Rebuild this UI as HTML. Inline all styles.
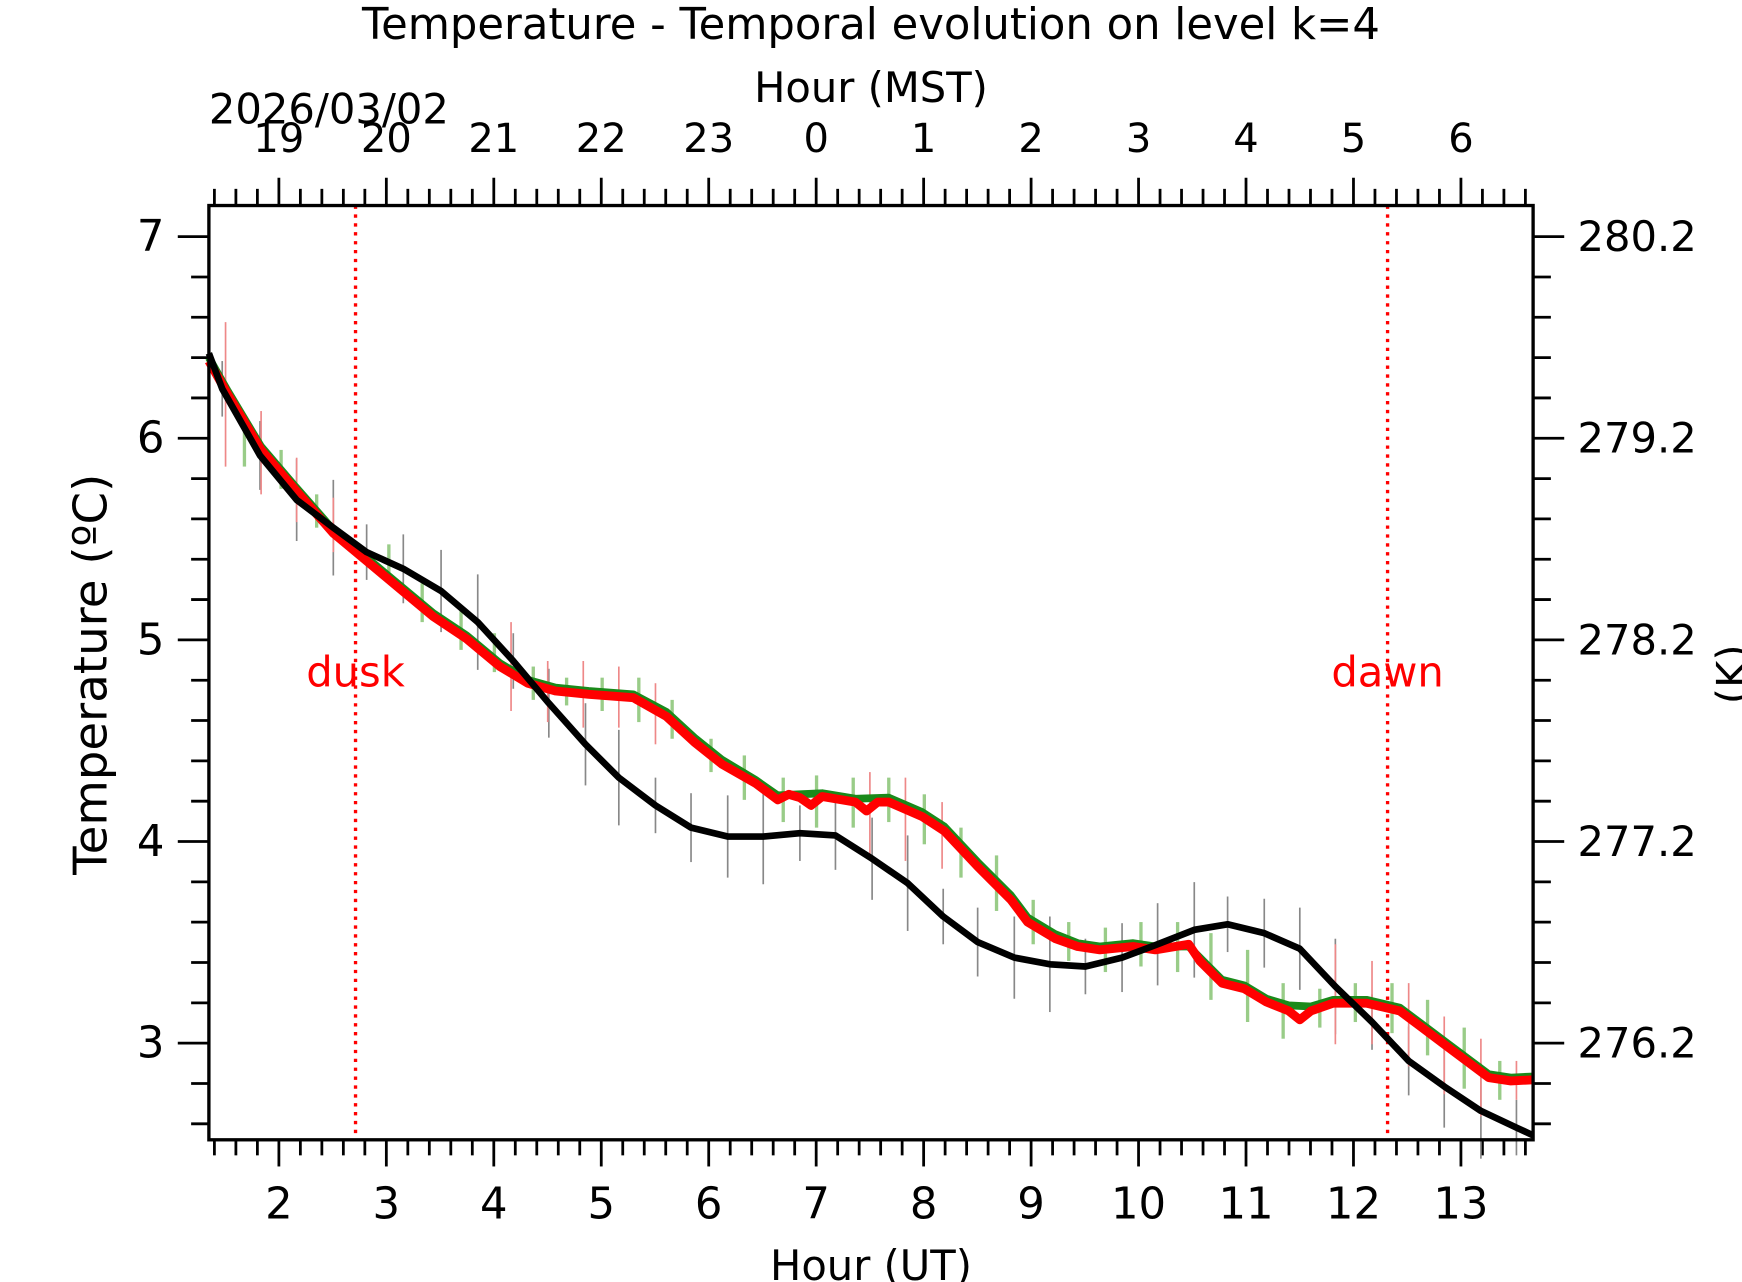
<!DOCTYPE html>
<html><head><meta charset="utf-8"><style>html,body{margin:0;padding:0;background:#fff}svg{display:block}text{font-family:"DejaVu Sans","Liberation Sans",sans-serif}</style></head>
<body>
<svg id="s" width="1742" height="1282" viewBox="0 0 1568 1154" xmlns="http://www.w3.org/2000/svg">
<rect width="1568" height="1154" fill="#fff"/>
<g id="ticks" stroke="#000" stroke-width="2.5"></g>
<g id="eb"></g>
<line x1="320" y1="185" x2="320" y2="1026" stroke="red" stroke-width="3" stroke-dasharray="3,5"/>
<line x1="1249" y1="185" x2="1249" y2="1026" stroke="red" stroke-width="3" stroke-dasharray="3,5"/>
<polyline fill="none" stroke="#1a8a1a" stroke-width="7" stroke-linejoin="round" points="188,322 205,352 235,402 265,437 300,477 330,502 360,527 390,552 420,572 450,597 475,612 500,619 530,622 570,625 600,641 625,664 650,684 680,702 700,716 720,715 740,714 770,719 800,718 830,731 850,744 880,776 910,806 925,826 950,841 970,849 990,852 1020,849 1040,852 1070,852 1080,862 1100,882 1120,887 1140,899 1160,905 1180,906 1200,900 1230,900 1260,907 1280,922 1300,937 1320,952 1340,967 1360,970 1380,969"/>
<polyline fill="none" stroke="red" stroke-width="8" stroke-linejoin="round" points="188,325 205,355 235,405 265,440 300,480 330,505 360,530 390,555 420,575 450,600 475,615 500,622 530,625 570,628 600,645 625,668 650,688 680,705 700,720 710,715 720,718 730,725 740,717 770,722 780,730 790,722 800,722 830,735 850,748 880,780 910,810 925,830 950,845 970,852 990,855 1020,852 1040,855 1070,850 1080,865 1100,885 1120,890 1140,902 1160,910 1170,918 1180,910 1200,903 1230,903 1260,910 1280,925 1300,940 1320,955 1340,970 1360,973 1380,972"/>
<polyline fill="none" stroke="#000" stroke-width="6" stroke-linejoin="round" points="188,318 200,350 234,410 267,450 300,475 330,497 363,512 397,532 430,560 462,595 494,633 527,670 557,700 590,725 622,745 655,753 687,753 720,750 752,752 785,773 817,795 849,825 880,848 913,862 945,868 977,870 1010,862 1042,850 1075,837 1105,832 1138,840 1170,854 1202,888 1235,920 1268,955 1300,978 1333,1000 1365,1015 1380,1022"/>
<rect x="188" y="185" width="1192" height="841" fill="none" stroke="#000" stroke-width="3"/>
<g font-size="37.5" fill="red" text-anchor="middle"><text x="320" y="618">dusk</text><text x="1249" y="618">dawn</text></g>
<g font-size="37.5" fill="#000" text-anchor="middle">
<text x="784" y="35" font-size="39">Temperature - Temporal evolution on level k=4</text>
<text x="784" y="92">Hour (MST)</text>
<text x="784" y="1152">Hour (UT)</text>
<text x="188" y="111" text-anchor="start">2026/03/02</text>
<text transform="translate(96,607) rotate(-90)" font-size="42">Temperature (ºC)</text>
<text transform="translate(1572,607) rotate(-90)">(K)</text>
</g>
<g id="labels" fill="#000"></g>
</svg>
<script>
var t=document.getElementById('ticks'),L=document.getElementById('labels'),E=document.getElementById('eb'),ns='http://www.w3.org/2000/svg';
function ln(g,x1,y1,x2,y2,c,w){var e=document.createElementNS(ns,'line');e.setAttribute('x1',x1);e.setAttribute('y1',y1);e.setAttribute('x2',x2);e.setAttribute('y2',y2);if(c){e.setAttribute('stroke',c);e.setAttribute('stroke-width',w);}g.appendChild(e);}
function tx(x,y,s,a,fs){var e=document.createElementNS(ns,'text');e.setAttribute('x',x);e.setAttribute('y',y);e.setAttribute('text-anchor',a);e.setAttribute('font-size',fs);e.textContent=s;L.appendChild(e);}
var px=96.73,x0=251;
for(var i=-3;i<=60;i++){var x=x0+i*px/5;if(x<189||x>1379)continue;var maj=(i%5==0);
ln(t,x,1026,x,maj?1050:1040);ln(t,x,185,x,maj?160:170);
if(maj){var h=2+i/5;tx(x,1097,''+h,'middle',39);tx(x,137,''+((h+17)%24),'middle',36);}}
for(var j=0;j<=23;j++){var v=2.6+j*0.2;var y=939-(v-3)*181.5;if(y<186||y>1025)continue;var maj=Math.abs(v-Math.round(v))<0.01;
ln(t,188,y,maj?160:172,y);ln(t,1380,y,maj?1408:1396,y);
if(maj){tx(148,y+13,''+Math.round(v),'end',39);tx(1420,y+13,(Math.round(v)+273.2).toFixed(1),'start',37.5);}}
var bk=[[200,350],[234,410],[267,450],[300,475],[330,497],[363,512],[397,532],[430,560],[462,595],[494,633],[527,670],[557,700],[590,725],[622,745],[655,753],[687,753],[720,750],[752,752],[785,773],[817,795],[849,825],[880,848],[913,862],[945,868],[977,870],[1010,862],[1042,850],[1075,837],[1105,832],[1138,840],[1170,854],[1202,888],[1235,920],[1268,955],[1300,978],[1333,1000],[1365,1015]];
bk.forEach(function(p,k){var d=25+(k%4)*6;ln(E,p[0],p[1]-d,p[0],p[1]+d,'#888',1.5);});
var rd=[[203,290,420],[235,370,445],[267,412,470],[300,448,497],[460,560,640],[493,595,650],[525,595,655],[557,600,655],[590,615,670],[783,695,770],[815,700,775],[848,722,782],[1202,850,940],[1235,865,940],[1268,885,960],[1300,915,985],[1333,935,1005],[1365,955,990]];
rd.forEach(function(p){ln(E,p[0],p[1],p[0],p[2],'#e88',1.5);});
var gp=[[220,380,420],[253,405,440],[285,445,475],[350,490,525],[380,525,560],[415,550,585],[445,570,605],[480,600,630],[510,610,635],[542,610,640],[575,610,650],[605,630,665],[640,665,695],[670,680,720],[705,700,740],[735,698,745],[768,700,745],[800,700,740],[832,715,760],[865,745,790],[897,770,820],[930,810,850],[962,830,865],[995,835,875],[1027,830,870],[1060,830,875],[1090,840,900],[1123,855,920],[1155,885,935],[1188,890,925],[1220,885,920],[1253,885,930],[1285,900,950],[1318,925,980],[1350,955,990]];
gp.forEach(function(p){ln(E,p[0],p[1],p[0],p[2],'#9c8',3);});
</script>
</body></html>
